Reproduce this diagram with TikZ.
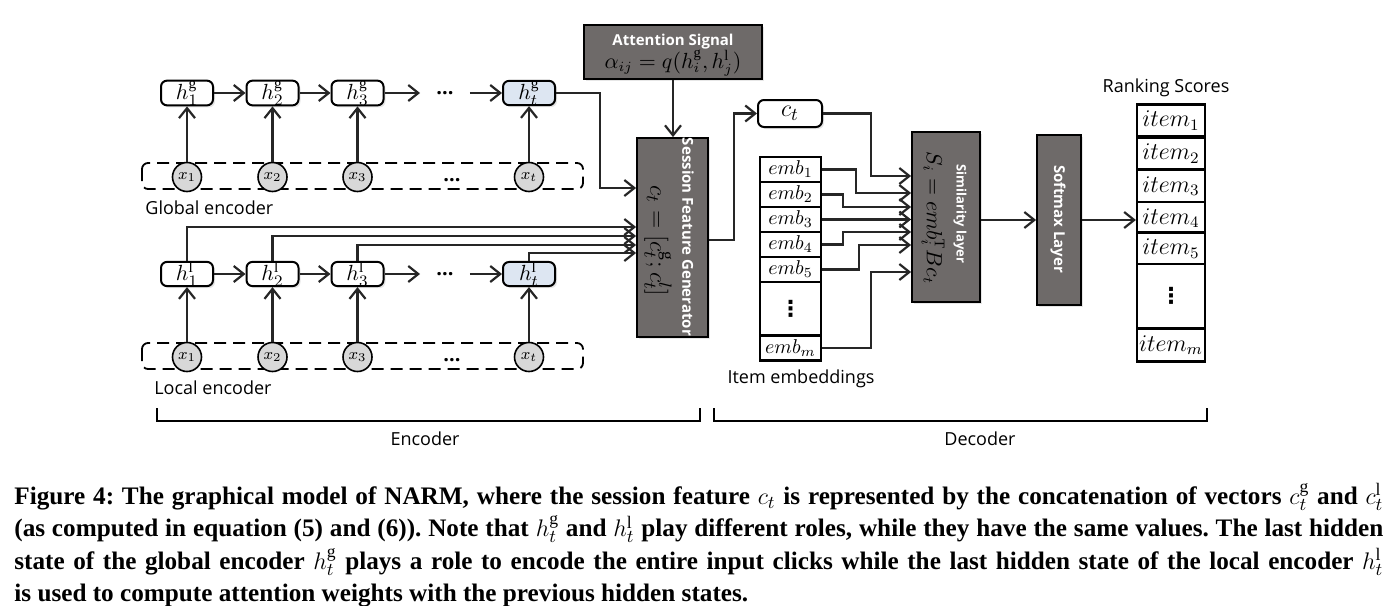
\documentclass[tikz,border=0pt]{standalone}
\usepackage{fontspec}
\setmainfont{Liberation Serif}
\setsansfont{Open Sans}
\newfontfamily\symfont{DejaVu Sans}
\usetikzlibrary{arrows.meta,shadows}

\definecolor{layergray}{RGB}{110,106,105}
\definecolor{lastblue}{RGB}{221,230,242}
\definecolor{clickgray}{RGB}{216,216,216}

\tikzset{
  >={Straight Barb[length=5pt,width=8pt]},
  softshadow/.style={drop shadow={shadow xshift=1pt,shadow yshift=-1pt,opacity=0.2}},
  hbox/.style={draw, rounded corners=3pt, fill=white, minimum width=26pt, minimum height=12pt, inner sep=0pt, line width=1pt, softshadow, font=\fontsize{11}{11}\selectfont},
  click/.style={draw, circle, fill=clickgray, minimum size=14.5pt, inner sep=0pt, line width=0.8pt, font=\fontsize{8.5}{8.5}\selectfont},
  clickframe/.style={draw, dashed, dash pattern=on 6pt off 3.5pt, rounded corners=3pt, line width=0.9pt},
  layerbox/.style={draw, fill=layergray, line width=0.9pt, inner sep=0pt, softshadow},
  layertitle/.style={text=white, font=\sffamily\bfseries\fontsize{7.5}{7.5}\selectfont, inner sep=0pt},
  cell/.style={draw, fill=white, minimum width=30.5pt, minimum height=12.5pt, inner sep=0pt, line width=1.1pt, font=\fontsize{10}{10}\selectfont},
  celldots/.style={font=\symfont\bfseries\fontsize{11}{11}\selectfont},
  dots/.style={font=\sffamily\bfseries\fontsize{10}{10}\selectfont, inner xsep=8pt},
  lbl/.style={font=\sffamily\fontsize{9}{9}\selectfont, inner sep=0pt},
  link/.style={->, line width=1.1pt, draw=black!85},
}

\begin{document}
\begin{tikzpicture}[x=0.5pt, y=-0.5pt]
\useasboundingbox (0,0) rectangle (1395,605);

% attention and session feature generator
\node[layerbox, minimum width=89pt, minimum height=27pt] (att) at (673,52) {};
\node[layertitle] (atttitle) at (673,42) {Attention Signal};
\node[font=\fontsize{10.5}{10.5}\selectfont, inner sep=0pt] (attform) at (673,63) {$\alpha_{ij} = q(h^{\mathrm{g}}_i, h^{\mathrm{l}}_j)$};
\node[layerbox, minimum width=35.5pt, minimum height=99.5pt] (sess) at (672.5,237.5) {};
\node[layertitle, rotate=-90] (sesstitle) at (688,237) {Session Feature Generator};
\node[font=\fontsize{12.5}{12.5}\selectfont, inner sep=0pt, rotate=-90] (sessform) at (658,241) {$c_t = [c^{\mathrm{g}}_t ; c^{l}_t]$};
\draw[link] (att.south) -- (att.south |- sess.north);

% global encoder
\draw[clickframe] (142,163) rectangle (583,189);
\foreach \i/\x in {1/187,2/272.5,3/357.5}{
  \node[hbox] (hg\i) at (\x,93) {$h^{\mathrm{g}}_{\i}$};
  \node[click] (xg\i) at (\x,177) {$x_{\i}$};
  \draw[link] (xg\i) -- (hg\i);
}
\node[hbox, fill=lastblue] (hgt) at (529,93) {$h^{\mathrm{g}}_t$};
\node[click] (xgt) at (529,177) {$x_t$};
\draw[link] (xgt) -- (hgt);
\node[dots] (hgdots) at (445,93) {...};
\node[dots] (xgdots) at (452,180) {...};
\draw[link] (hg1) -- (hg2);
\draw[link] (hg2) -- (hg3);
\draw[link] (hg3) -- (hgdots);
\draw[link] (hgdots) -- (hgt);
\node[lbl, anchor=west] (globlbl) at (145,208) {Global encoder};
\draw[link] (hgt.east) -| (600,188) -- (sess.west |- 0,188);

% local encoder
\draw[clickframe] (142,343) rectangle (583,369);
\foreach \i/\x in {1/187,2/272.5,3/357.5}{
  \node[hbox] (hl\i) at (\x,274) {$h^{\mathrm{l}}_{\i}$};
  \node[click] (xl\i) at (\x,357) {$x_{\i}$};
  \draw[link] (xl\i) -- (hl\i);
}
\node[hbox, fill=lastblue] (hlt) at (529,274) {$h^{\mathrm{l}}_t$};
\node[click] (xlt) at (529,357) {$x_t$};
\draw[link] (xlt) -- (hlt);
\node[dots] (hldots) at (445,274) {...};
\node[dots] (xldots) at (452,360) {...};
\draw[link] (hl1) -- (hl2);
\draw[link] (hl2) -- (hl3);
\draw[link] (hl3) -- (hldots);
\draw[link] (hldots) -- (hlt);
\node[lbl, anchor=west] (loclbl) at (154,388) {Local encoder};
\foreach \i/\y in {1/227,2/236,3/245,t/253}
  \draw[link] (hl\i.north) |- (sess.west |- 0,\y);

% decoder
\node[hbox, minimum width=32pt, minimum height=13.5pt, font=\fontsize{12.5}{12.5}\selectfont] (ct) at (790,113.5) {$c_t$};
\draw[link] (sess.east |- 0,240) -- (734,240) |- (ct.west);
\foreach \i/\y in {1/169.5,2/194.5,3/219.5,4/244.5,5/269.5}
  \node[cell] (emb\i) at (790.5,\y) {$emb_{\i}$};
\node[cell, minimum height=26.5pt] (embdots) at (790.5,308.5) {};
\node[celldots] (embdotsym) at (embdots) {⋮};
\node[cell] (embm) at (790.5,348) {$emb_m$};
\node[lbl] (emblbl) at (801,379) {Item embeddings};

\node[layerbox, minimum width=34pt, minimum height=85pt] (sim) at (946,217) {};
\node[layertitle, rotate=-90, font=\sffamily\bfseries\fontsize{6.5}{6.5}\selectfont] (simtitle) at (960,214) {Similarity layer};
\node[font=\fontsize{10.5}{10.5}\selectfont, inner sep=0pt, rotate=-90] (simform) at (933,218) {$S_i = emb^{\mathrm{T}}_i B c_t$};

\draw[link] (ct.east) -| (871,176) -- (sim.west |- 0,176);
\draw[link] (emb1.east) -| (856,193) -- (sim.west |- 0,193);
\draw[link] (emb2.east) -| (843,207) -- (sim.west |- 0,207);
\draw[link] (emb3.east) -- (sim.west |- emb3.east);
\draw[link] (emb4.east) -| (843,232) -- (sim.west |- 0,232);
\draw[link] (emb5.east) -| (859,245) -- (sim.west |- 0,245);
\draw[link] (embm.east) -| (871,272) -- (sim.west |- 0,272);

\node[layerbox, minimum width=22pt, minimum height=85pt] (soft) at (1059,220) {};
\node[layertitle, rotate=-90] (softtitle) at (1058,219) {Softmax Layer};
\draw[link] (sim.east |- soft.west) -- (soft.west);

% ranking scores
\foreach \i/\y in {1/120.5,2/153.5,3/186,4/218,5/248.5}
  \node[cell, minimum width=34pt, minimum height=16pt, font=\fontsize{11.5}{11.5}\selectfont] (item\i) at (1171,\y) {$item_{\i}$};
\node[cell, minimum width=34pt, minimum height=32pt] (itemdots) at (1171,296) {};
\node[celldots] (itemdotsym) at (itemdots) {⋮};
\node[cell, minimum width=34pt, minimum height=16.5pt, font=\fontsize{11.5}{11.5}\selectfont] (itemm) at (1171,345) {$item_m$};
\node[lbl] (ranklbl) at (1166,88) {Ranking Scores};
\draw[link] (soft.east) -- (soft.east -| item4.west);

% encoder / decoder brackets
\draw[line width=1.1pt] (157,408) -- (157,421) -- (700,421) -- (700,408);
\draw[line width=1.1pt] (714,408) -- (714,421) -- (1207,421) -- (1207,408);
\node[lbl] (enclbl) at (425,439) {Encoder};
\node[lbl] (declbl) at (980,439) {Decoder};

% caption
\node[anchor=north west, inner sep=0pt, text width=684.5pt, align=justify,
      font=\frenchspacing\bfseries\fontsize{12.6}{16.15}\selectfont] (caption) at (14,483)
  {Figure 4: The graphical model of NARM, where the session feature $c_t$ is represented by the concatenation of vectors $c^{\mathrm{g}}_t$ and $c^{\mathrm{l}}_t$\linebreak
   (as computed in equation (5) and (6)). Note that $h^{\mathrm{g}}_t$ and $h^{\mathrm{l}}_t$ play different roles, while they have the same values. The last hidden\linebreak
   state of the global encoder $h^{\mathrm{g}}_t$ plays a role to encode the entire input clicks while the last hidden state of the local encoder $h^{\mathrm{l}}_t$\linebreak
   is used to compute attention weights with the previous hidden states.};
\end{tikzpicture}
\end{document}
